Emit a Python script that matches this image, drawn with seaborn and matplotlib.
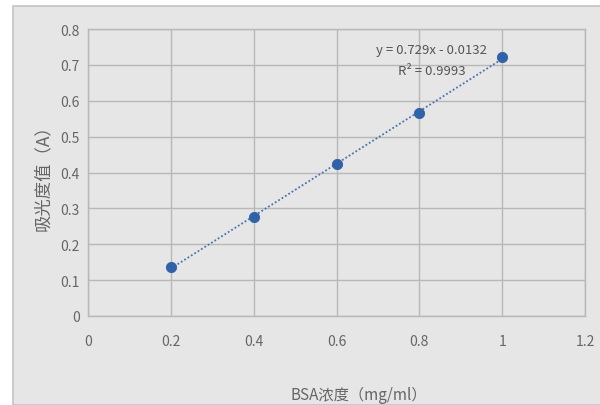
import numpy as np
import pandas as pd
import matplotlib
matplotlib.use("Agg")
import matplotlib.pyplot as plt
from matplotlib.patches import Rectangle
import seaborn as sns

# data
conc = [0.2, 0.4, 0.6, 0.8, 1.0]
absorb = [0.137, 0.275, 0.423, 0.565, 0.722]
xticks = [0, 0.2, 0.4, 0.6, 0.8, 1, 1.2]
yticks = [0, 0.1, 0.2, 0.3, 0.4, 0.5, 0.6, 0.7, 0.8]
eq_text = "y = 0.729x - 0.0132"
r2_text = "R² = 0.9993"

sns.set_style("white")
plt.rcParams['font.family'] = ['Noto Sans CJK SC', 'DejaVu Sans']

df = pd.DataFrame({'conc': conc, 'absorb': absorb})

fig = plt.figure(figsize=(6, 4.06), dpi=100, facecolor='white')
# grey chart panel, kept behind the axes
panel = Rectangle((13 / 600, 0), 1, 1 - 7 / 406, transform=fig.transFigure,
                  facecolor='#e6e6e6', edgecolor='#c4c4c4', lw=1.2, zorder=-10)
fig.add_artist(panel)

ax = fig.add_axes([88 / 600, 1 - 317 / 406, 497 / 600, 287 / 406])
ax.set_facecolor('#e6e6e6')

# linear trend line
k, b = np.polyfit(conc, absorb, 1)
xs = np.array([min(conc), max(conc)])
sns.lineplot(x=xs, y=k * xs + b, ax=ax, color='#4a72b0', lw=1.3, linestyle=(0, (1, 1.2)), zorder=2)
sns.scatterplot(data=df, x='conc', y='absorb', ax=ax, color='#2f62a8', s=55,
                edgecolor='#2f62a8', zorder=3)

ax.set_xlim(0, 1.2)
ax.set_ylim(0, 0.8)
ax.set_xticks(xticks)
ax.set_xticklabels(['0', '0.2', '0.4', '0.6', '0.8', '1', '1.2'])
ax.set_yticks(yticks)
ax.set_yticklabels(['0', '0.1', '0.2', '0.3', '0.4', '0.5', '0.6', '0.7', '0.8'])
ax.grid(True, color='#b8b8b8', lw=1)
for s in ax.spines.values():
    s.set_color('#b8b8b8')
    s.set_linewidth(1)
ax.tick_params(length=0, labelsize=10, labelcolor='#666666')
ax.tick_params(axis='x', pad=13)
ax.tick_params(axis='y', pad=6)

ax.text(0.83, 0.744, eq_text, ha='center', va='center', fontsize=9.5, color='#555555')
ax.text(0.83, 0.683, r2_text, ha='center', va='center', fontsize=9.5, color='#555555')

ax.set_xlabel("BSA浓度（mg/ml）", fontsize=11, color='#666666')
ax.set_ylabel("吸光度值（A）", fontsize=12.5, color='#666666')
ax.xaxis.set_label_coords(0.545, -0.245)
ax.yaxis.set_label_coords(-0.072, 0.5)

fig.savefig("out.png", dpi=100, facecolor='white')
